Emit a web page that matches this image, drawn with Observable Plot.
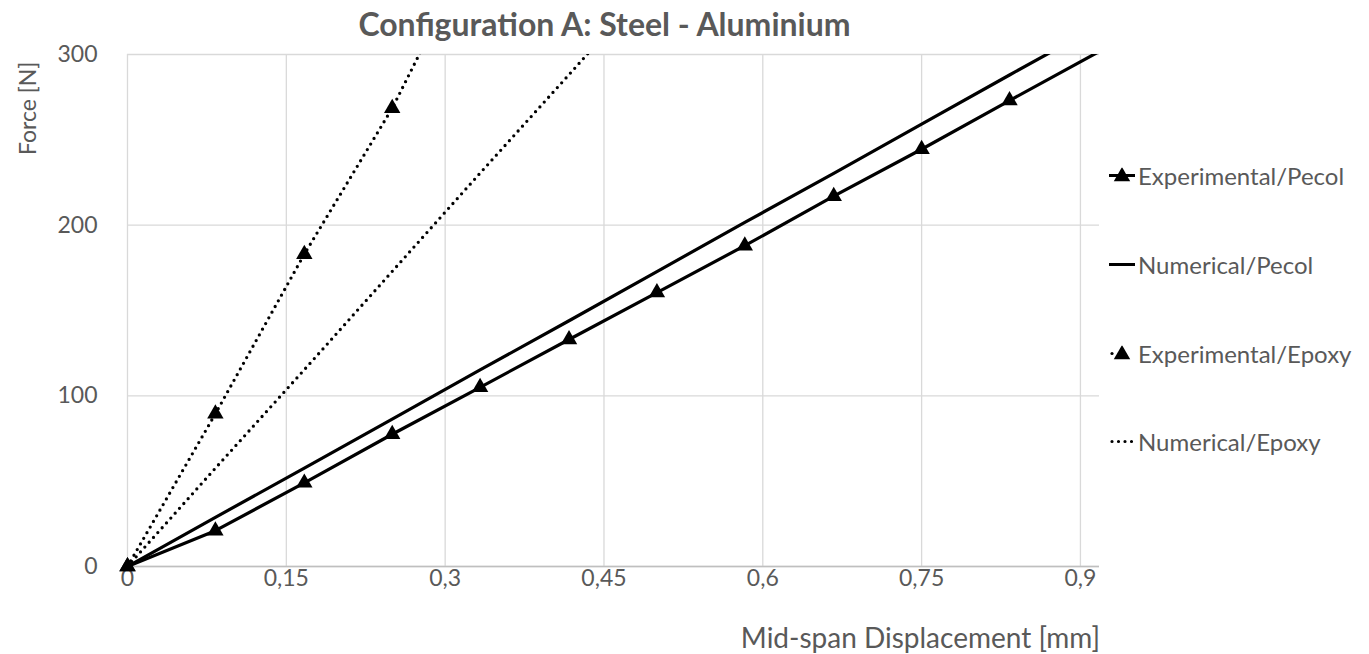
<!DOCTYPE html>
<html>
<head>
<meta charset="utf-8">
<script src="https://cdn.jsdelivr.net/npm/d3@7"></script>
<script src="https://cdn.jsdelivr.net/npm/@observablehq/plot@0.6"></script>
<style>
  html, body { margin: 0; padding: 0; background: #fff; }
  #chart { position: relative; width: 1369px; height: 654px; font-family: Lato, "Open Sans", sans-serif; color: #595959; }
  #chart svg { position: absolute; left: 0; top: 0; }
  .title { position: absolute; left: 0; width: 1209px; top: 4px; line-height: 40px; text-align: center; font-weight: bold; font-size: 32px; }
  .xtitle { position: absolute; right: 269px; top: 619px; line-height: 36px; font-size: 28px; white-space: nowrap; }
  .ytitle { position: absolute; left: 13px; top: 54px; font-size: 23px; white-space: nowrap;
            transform-origin: 0 0; transform: translate(0, 101px) rotate(-90deg); }
  .legend { position: absolute; left: 1106px; top: 0; }
  .legend .item { position: absolute; left: 0; display: flex; align-items: center; font-size: 24px; white-space: nowrap; transform: translateY(-50%); }
  .legend svg { position: static !important; margin-right: 2px; }
</style>
</head>
<body>
<div id="chart"></div>
<script>
// Mid-span displacement [mm] and force [N] for each series
const pecolDisp        = [0, 0.083, 0.167, 0.25, 0.333, 0.417, 0.5, 0.583, 0.667, 0.75, 0.833, 0.917];
const expPecolForce    = [0, 21, 49, 77.5, 105, 133, 160.5, 188, 217, 244.5, 273, 301.5];
const numPecolForce    = [0, 28.8, 57.6, 86.4, 115.2, 144, 172.8, 201.6, 230.4, 259.2, 288, 316.8];
const expEpoxyDisp     = [0, 0.083, 0.167, 0.25, 0.333];
const expEpoxyForce    = [0, 89.5, 183, 268.5, 371];
const numEpoxyDisp     = [0, 0.083, 0.167, 0.25, 0.333, 0.417, 0.5];
const numEpoxyForce    = [0, 57.6, 115.3, 172.9, 230.5, 288.2, 345.8];

const seriesNames = ["Experimental/Pecol", "Numerical/Pecol", "Experimental/Epoxy", "Numerical/Epoxy"];
const xTicks = [0, 0.15, 0.3, 0.45, 0.6, 0.75, 0.9];
const xTickLabels = ["0", "0,15", "0,3", "0,45", "0,6", "0,75", "0,9"];
const yTicks = [0, 100, 200, 300];

const titleText = "Configuration A: Steel - Aluminium";
const xLabel = "Mid-span Displacement [mm]";
const yLabel = "Force [N]";

const toRows = (xs, ys) => xs.map((x, i) => ({x, y: ys[i]}));
const expPecol = toRows(pecolDisp, expPecolForce);
const numPecol = toRows(pecolDisp, numPecolForce);
const expEpoxy = toRows(expEpoxyDisp, expEpoxyForce);
const numEpoxy = toRows(numEpoxyDisp, numEpoxyForce);

const ink = "#000";
const dotDash = "0,6.5";
const dotted = {strokeDasharray: dotDash, strokeLinecap: "round", strokeWidth: 3.3};
const triR = 6.1;
const inFrame = d => d.y <= 300;

const plot = Plot.plot({
  width: 1369,
  height: 654,
  marginLeft: 127,
  marginRight: 270,
  marginTop: 54,
  marginBottom: 88,
  style: {fontFamily: "Lato, 'Open Sans', sans-serif", color: "#595959", background: "transparent"},
  x: {domain: [0, 0.918]},
  y: {domain: [0, 300]},
  marks: [
    Plot.gridX(xTicks, {stroke: "#d9d9d9", strokeOpacity: 1, strokeWidth: 1.3}),
    Plot.gridY(yTicks, {stroke: "#d9d9d9", strokeOpacity: 1, strokeWidth: 1.3}),
    Plot.ruleY([0], {stroke: "#bfbfbf", strokeWidth: 1.5}),
    Plot.axisX(xTicks, {tickSize: 0, tickPadding: 3, fontSize: 23, fill: "#595959", label: null,
      tickFormat: (d, i) => xTickLabels[i]}),
    Plot.axisY(yTicks, {tickSize: 0, tickPadding: 30, fontSize: 23, fill: "#595959", label: null}),
    Plot.line(numEpoxy, {x: "x", y: "y", stroke: ink, clip: true, ...dotted}),
    Plot.line(expEpoxy, {x: "x", y: "y", stroke: ink, clip: true, ...dotted}),
    Plot.line(numPecol, {x: "x", y: "y", stroke: ink, strokeWidth: 3.2, clip: true}),
    Plot.line(expPecol, {x: "x", y: "y", stroke: ink, strokeWidth: 3.2, clip: true}),
    Plot.dot(expEpoxy, {filter: inFrame, x: "x", y: "y", symbol: "triangle", r: triR, fill: ink}),
    Plot.dot(expPecol, {filter: inFrame, x: "x", y: "y", symbol: "triangle", r: triR, fill: ink})
  ]
});

const chart = document.getElementById("chart");
chart.appendChild(plot);

const addDiv = (cls, text) => {
  const el = document.createElement("div");
  el.className = cls;
  el.textContent = text;
  chart.appendChild(el);
  return el;
};
addDiv("title", titleText);
addDiv("xtitle", xLabel);
addDiv("ytitle", yLabel);

// Legend: swatch drawn with the same stroke styles as the marks
const legend = document.createElement("div");
legend.className = "legend";
chart.appendChild(legend);
const legendTops = [175, 264, 353, 441];
const swatchKinds = ["solid-tri", "solid", "dot-tri", "dot"];
seriesNames.forEach((name, i) => {
  const item = document.createElement("div");
  item.className = "item";
  item.style.top = legendTops[i] + "px";
  const kind = swatchKinds[i];
  const svg = d3.create("svg").attr("width", 30).attr("height", 16);
  const line = svg.append("line").attr("x1", 3).attr("x2", 29).attr("y1", 8).attr("y2", 8)
    .attr("stroke", ink).attr("stroke-width", 3.2);
  if (kind.startsWith("dot")) {
    line.attr("stroke-dasharray", dotDash).attr("stroke-linecap", "round").attr("x1", 6).attr("x2", 28);
  }
  if (kind.endsWith("tri")) {
    svg.append("path").attr("d", d3.symbol(d3.symbolTriangle, Math.PI * triR * triR)())
      .attr("transform", "translate(16,9)").attr("fill", ink);
    if (kind === "dot-tri") line.attr("x2", 7);
  }
  item.appendChild(svg.node());
  const label = document.createElement("span");
  label.textContent = name;
  item.appendChild(label);
  legend.appendChild(item);
});
</script>
</body>
</html>
